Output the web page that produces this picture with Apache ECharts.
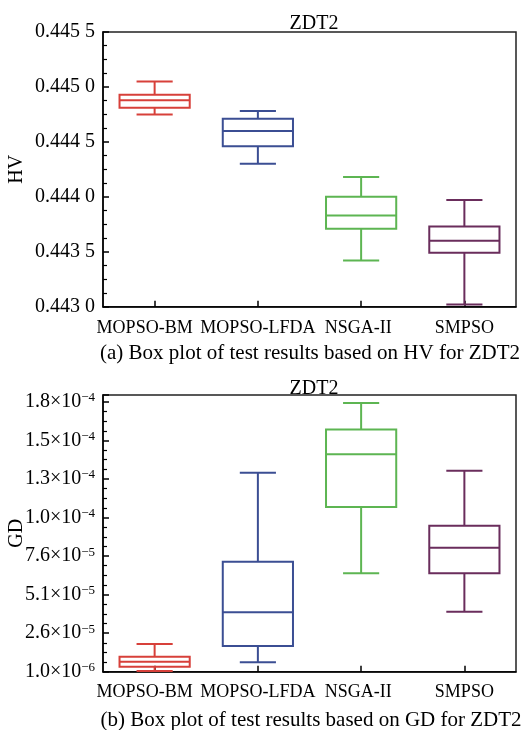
<!DOCTYPE html>
<html>
<head>
<meta charset="utf-8">
<script src="https://cdn.jsdelivr.net/npm/echarts@6/dist/echarts.min.js"></script>
<style>
html,body{margin:0;padding:0;background:#fff;}
#chart{width:526px;height:730px;}
</style>
</head>
<body>
<div id="chart"></div>
<script>
// ---- data ----
const categories = ['MOPSO-BM', 'MOPSO-LFDA', 'NSGA-II', 'SMPSO'];
const boxColors = ['#d7403a', '#3b4e93', '#5db552', '#6a2d5c'];

// HV (panel a)
const hvMin    = [0.44475, 0.44430, 0.44342, 0.44302];
const hvQ1     = [0.44481, 0.44446, 0.44371, 0.44349];
const hvMedian = [0.44488, 0.44460, 0.44383, 0.44360];
const hvQ3     = [0.44493, 0.44471, 0.44400, 0.44373];
const hvMax    = [0.44505, 0.44478, 0.44418, 0.44397];
const hvTickLabels = ['0.443 0', '0.443 5', '0.444 0', '0.444 5', '0.445 0', '0.445 5'];

// GD (panel b)
const gdMin    = [1.5e-6, 7.1e-6, 6.48e-5, 3.99e-5];
const gdQ1     = [4.2e-6, 1.77e-5, 1.079e-4, 6.48e-5];
const gdMedian = [7.5e-6, 3.95e-5, 1.421e-4, 8.14e-5];
const gdQ3     = [1.07e-5, 7.23e-5, 1.581e-4, 9.56e-5];
const gdMax    = [1.9e-5, 1.30e-4, 1.753e-4, 1.313e-4];
const gdTickMantissa = ['1.0', '2.6', '5.1', '7.6', '1.0', '1.3', '1.5', '1.8'];
const gdTickExponent = ['\u22126', '\u22125', '\u22125', '\u22125', '\u22124', '\u22124', '\u22124', '\u22124'];

const FONT = '"Liberation Serif", "Times New Roman", serif';

function buildRows(mn, q1, md, q3, mx) {
  return categories.map((c, i) => [i, mn[i], q1[i], md[i], q3[i], mx[i]]);
}

function renderBox(params, api) {
  const i = api.value(0);
  const pMin = api.coord([i, api.value(1)]);
  const pQ1 = api.coord([i, api.value(2)]);
  const pMed = api.coord([i, api.value(3)]);
  const pQ3 = api.coord([i, api.value(4)]);
  const pMax = api.coord([i, api.value(5)]);
  const band = api.size([1, 0])[0];
  const bw = band * 0.68, cw = band * 0.35;
  const cx = pMed[0];
  const color = boxColors[params.dataIndex];
  const st = { stroke: color, lineWidth: 2, fill: null };
  const line = (x1, y1, x2, y2) => ({ type: 'line', shape: { x1, y1, x2, y2 }, style: st });
  return {
    type: 'group',
    children: [
      { type: 'rect', shape: { x: cx - bw / 2, y: pQ3[1], width: bw, height: pQ1[1] - pQ3[1] }, style: { stroke: color, lineWidth: 2, fill: 'rgba(0,0,0,0)' } },
      line(cx - bw / 2, pMed[1], cx + bw / 2, pMed[1]),
      line(cx, pQ3[1], cx, pMax[1]),
      line(cx, pQ1[1], cx, pMin[1]),
      line(cx - cw / 2, pMax[1], cx + cw / 2, pMax[1]),
      line(cx - cw / 2, pMin[1], cx + cw / 2, pMin[1])
    ]
  };
}

const axisLineStyle = { show: true, lineStyle: { color: '#000', width: 1.5 } };

function xAxisFor(gridIndex, margin) {
  return {
    type: 'category', gridIndex, data: categories, boundaryGap: true,
    axisLine: axisLineStyle,
    axisTick: { show: true, inside: true, alignWithLabel: true, length: 6, lineStyle: { color: '#000', width: 1.5 } },
    axisLabel: {
      fontFamily: FONT, fontSize: 18, color: '#000', margin, interval: 0,
      formatter: (v, i) => i === 0 ? '{s|' + v + '}' : (i === 2 ? '{t|' + v + '}' : v),
      rich: {
        s: { fontFamily: FONT, fontSize: 18, color: '#000', padding: [0, 20, 0, 0] },
        t: { fontFamily: FONT, fontSize: 18, color: '#000', padding: [0, 6, 0, 0] }
      }
    },
    splitLine: { show: false }
  };
}

const chart = echarts.init(document.getElementById('chart'), null, { renderer: 'canvas' });

const option = {
  animation: false,
  backgroundColor: '#fff',
  title: [
    { text: 'ZDT2', left: 309, top: 9, textAlign: 'center', textStyle: { fontFamily: FONT, fontSize: 20, fontWeight: 'normal', color: '#000' } },
    { text: 'ZDT2', left: 309, top: 374, textAlign: 'center', textStyle: { fontFamily: FONT, fontSize: 20, fontWeight: 'normal', color: '#000' } }
  ],
  grid: [
    { left: 103, right: 10, top: 32, height: 274.7, show: true, borderColor: '#222', borderWidth: 1.5, backgroundColor: 'transparent', containLabel: false, outerBoundsMode: 'none' },
    { left: 103, right: 10, top: 395, height: 276.7, show: true, borderColor: '#222', borderWidth: 1.5, backgroundColor: 'transparent', containLabel: false, outerBoundsMode: 'none' }
  ],
  xAxis: [xAxisFor(0, 13), xAxisFor(1, 12)],
  yAxis: [
    {
      type: 'value', gridIndex: 0, min: 0.443, max: 0.4455, interval: 0.0005,
      name: 'HV', nameLocation: 'middle', nameGap: 76, nameRotate: 90, nameMoveOverlap: false,
      nameTextStyle: { fontFamily: FONT, fontSize: 20, color: '#000' },
      axisLine: axisLineStyle,
      axisTick: { show: true, inside: true, length: 6, lineStyle: { color: '#000', width: 1.5 } },
      minorTick: { show: true, splitNumber: 4, length: 4, lineStyle: { color: '#000', width: 1.2 } },
      splitLine: { show: false },
      axisLabel: {
        fontFamily: FONT, fontSize: 20, color: '#000', margin: 8,
        formatter: v => hvTickLabels[Math.round((v - 0.443) / 0.0005)] || ''
      }
    },
    {
      type: 'value', gridIndex: 1, min: 1e-6, max: 1.805e-4, interval: 2.5e-5,
      name: 'GD', nameLocation: 'middle', nameGap: 76, nameRotate: 90, nameMoveOverlap: false,
      nameTextStyle: { fontFamily: FONT, fontSize: 20, color: '#000' },
      axisLine: axisLineStyle,
      axisTick: { show: true, inside: true, length: 6, lineStyle: { color: '#000', width: 1.5 } },
      minorTick: { show: true, splitNumber: 4, length: 4, lineStyle: { color: '#000', width: 1.2 } },
      splitLine: { show: false },
      axisLabel: {
        fontFamily: FONT, fontSize: 20, color: '#000', margin: 8,
        formatter: v => {
          const k = Math.round((v - 1e-6) / 2.5e-5);
          if (Math.abs(v - (1e-6 + k * 2.5e-5)) > 2e-6 || !gdTickMantissa[k]) return '';
          return '{m|' + gdTickMantissa[k] + '\u00d710}{e|' + gdTickExponent[k] + '}';
        },
        rich: {
          m: { fontFamily: FONT, fontSize: 20, color: '#000' },
          e: { fontFamily: FONT, fontSize: 13, color: '#000', verticalAlign: 'top', padding: [0, 0, 8, 0] }
        }
      }
    }
  ],
  graphic: [
    { type: 'text', style: { text: '(a) Box plot of test results based on HV for ZDT2', x: 310, y: 353, textAlign: 'center', textVerticalAlign: 'middle', font: '21px ' + FONT, fill: '#000' } },
    { type: 'text', style: { text: '(b) Box plot of test results based on GD for ZDT2', x: 311, y: 720, textAlign: 'center', textVerticalAlign: 'middle', font: '21px ' + FONT, fill: '#000' } }
  ],
  series: [
    { type: 'custom', xAxisIndex: 0, yAxisIndex: 0, renderItem: renderBox, encode: { x: 0, y: [1, 2, 3, 4, 5] }, data: buildRows(hvMin, hvQ1, hvMedian, hvQ3, hvMax), clip: false },
    { type: 'custom', xAxisIndex: 1, yAxisIndex: 1, renderItem: renderBox, encode: { x: 0, y: [1, 2, 3, 4, 5] }, data: buildRows(gdMin, gdQ1, gdMedian, gdQ3, gdMax), clip: false }
  ]
};
chart.setOption(option);
</script>
</body>
</html>
